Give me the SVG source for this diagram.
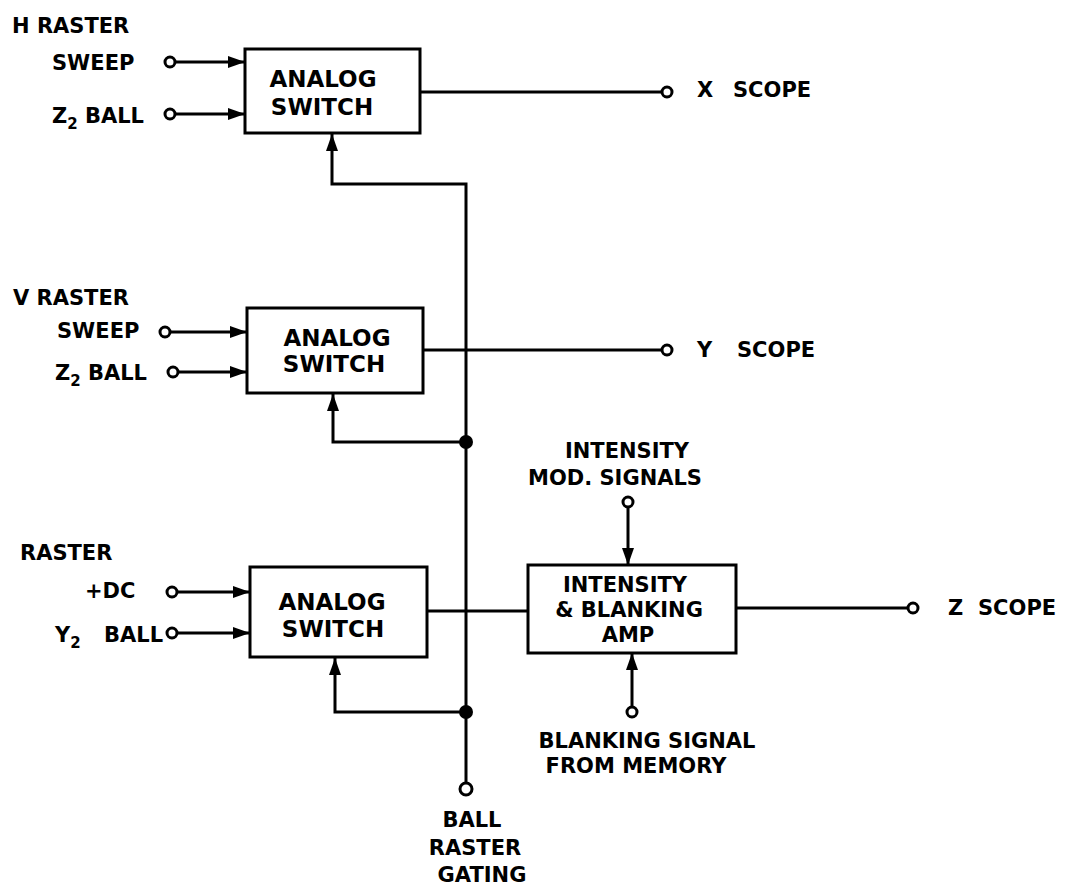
<svg xmlns="http://www.w3.org/2000/svg" width="1076" height="885" viewBox="0 0 1076 885">
<defs>
<style>
.t{font-family:"DejaVu Sans","Liberation Sans",sans-serif;font-weight:bold;font-size:21px;fill:#000}
.b{font-size:23px}
.c{text-anchor:middle}
.box{fill:none;stroke:#000;stroke-width:3}
.w{fill:none;stroke:#000;stroke-width:3}
.term{fill:#fff;stroke:#000;stroke-width:3}
.dot{fill:#000}
</style>
<marker id="ah" markerUnits="userSpaceOnUse" markerWidth="18" markerHeight="14" refX="17" refY="7" orient="auto">
<path d="M0,1 L17,7 L0,13 z" fill="#000"/>
</marker>
</defs>
<rect width="1076" height="885" fill="#fff"/>

<g id="connectors">
<line class="w" x1="175" y1="62" x2="245" y2="62" marker-end="url(#ah)"/>
<line class="w" x1="175" y1="114" x2="245" y2="114" marker-end="url(#ah)"/>
<line class="w" x1="420" y1="92" x2="662" y2="92"/>
<line class="w" x1="170" y1="332" x2="247" y2="332" marker-end="url(#ah)"/>
<line class="w" x1="178" y1="372" x2="247" y2="372" marker-end="url(#ah)"/>
<line class="w" x1="423" y1="350" x2="662" y2="350"/>
<line class="w" x1="177" y1="592" x2="250" y2="592" marker-end="url(#ah)"/>
<line class="w" x1="177" y1="633" x2="250" y2="633" marker-end="url(#ah)"/>
<line class="w" x1="427" y1="611" x2="528" y2="611"/>
<polyline class="w" points="466,783 466,184 332,184 332,134" marker-end="url(#ah)"/>
<polyline class="w" points="466,442 333,442 333,394" marker-end="url(#ah)"/>
<polyline class="w" points="466,712 335,712 335,658" marker-end="url(#ah)"/>
<circle class="dot" cx="466" cy="442" r="7"/>
<circle class="dot" cx="466" cy="712" r="7"/>
<line class="w" x1="628" y1="507" x2="628" y2="565" marker-end="url(#ah)"/>
<line class="w" x1="632" y1="707" x2="632" y2="653" marker-end="url(#ah)"/>
<line class="w" x1="736" y1="608" x2="908" y2="608"/>
<circle class="term" cx="170" cy="62" r="5"/>
<circle class="term" cx="170" cy="114" r="5"/>
<circle class="term" cx="667" cy="92" r="5"/>
<circle class="term" cx="165" cy="332" r="5"/>
<circle class="term" cx="173" cy="372" r="5"/>
<circle class="term" cx="667" cy="350" r="5"/>
<circle class="term" cx="172" cy="592" r="5"/>
<circle class="term" cx="172" cy="633" r="5"/>
<circle class="term" cx="466" cy="789" r="6"/>
<circle class="term" cx="628" cy="502" r="5"/>
<circle class="term" cx="632" cy="712" r="5"/>
<circle class="term" cx="913" cy="608" r="5"/>
</g>

<g id="switch1">
<rect class="box" x="245" y="49" width="175" height="84"/>
<text class="t b c" x="323" y="87">ANALOG</text>
<text class="t b c" x="322" y="115">SWITCH</text>
</g>
<g id="switch2">
<rect class="box" x="247" y="308" width="176" height="85"/>
<text class="t b c" x="337" y="346">ANALOG</text>
<text class="t b c" x="334" y="372">SWITCH</text>
</g>
<g id="switch3">
<rect class="box" x="250" y="567" width="177" height="90"/>
<text class="t b c" x="332" y="610">ANALOG</text>
<text class="t b c" x="333" y="637">SWITCH</text>
</g>
<g id="intensity-amp">
<rect class="box" x="528" y="565" width="208" height="88"/>
<text class="t c" x="625" y="592">INTENSITY</text>
<text class="t c" x="629" y="617">&amp; BLANKING</text>
<text class="t c" x="628" y="642">AMP</text>
</g>

<g id="labels">
<text class="t" x="12" y="33">H RASTER</text>
<text class="t" x="52" y="70">SWEEP</text>
<text class="t" x="52" y="123">Z<tspan font-size="15" dy="6">2</tspan><tspan dy="-6"> BALL</tspan></text>
<text class="t" x="697" y="97">X</text>
<text class="t" x="733" y="97">SCOPE</text>

<text class="t" x="13" y="305">V RASTER</text>
<text class="t" x="57" y="338">SWEEP</text>
<text class="t" x="55" y="380">Z<tspan font-size="15" dy="6">2</tspan><tspan dy="-6"> BALL</tspan></text>
<text class="t" x="697" y="357">Y</text>
<text class="t" x="737" y="357">SCOPE</text>

<text class="t" x="20" y="560">RASTER</text>
<text class="t" x="85" y="598">+DC</text>
<text class="t" x="55" y="642">Y<tspan font-size="15" dy="6">2</tspan></text>
<text class="t" x="104" y="642">BALL</text>
<text class="t" x="948" y="615">Z</text>
<text class="t" x="978" y="615">SCOPE</text>

<text class="t c" x="627" y="458">INTENSITY</text>
<text class="t c" x="615" y="485">MOD. SIGNALS</text>
<text class="t c" x="647" y="748">BLANKING SIGNAL</text>
<text class="t c" x="636" y="773">FROM MEMORY</text>
<text class="t c" x="472" y="827">BALL</text>
<text class="t c" x="475" y="855">RASTER</text>
<text class="t c" x="482" y="882">GATING</text>
</g>
</svg>
